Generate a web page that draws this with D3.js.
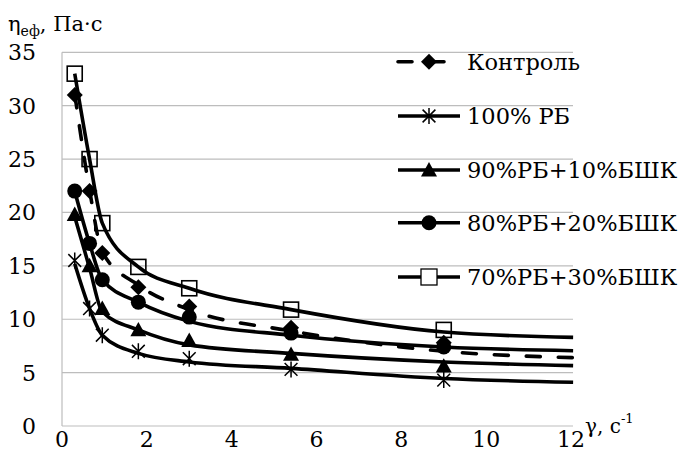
<!DOCTYPE html>
<html><head><meta charset="utf-8">
<script src="https://cdn.jsdelivr.net/npm/d3@7"></script>
<style>
html,body{margin:0;padding:0;background:#fff;}
svg text{font-family:"DejaVu Serif",serif;}
</style></head>
<body>
<svg id="chart" width="686" height="472"></svg>
<script>
// ---- data ----
const xValues = [0.3, 0.65, 0.95, 1.8, 3, 5.4, 9];
const seriesNames = ["Контроль", "100% РБ", "90%РБ+10%БШК", "80%РБ+20%БШК", "70%РБ+30%БШК"];
const control = [31, 22, 16.2, 13, 11.2, 9.2, 7.8];
const rb100 = [15.5, 11, 8.5, 7.0, 6.3, 5.3, 4.3];
const rb90 = [19.8, 15, 11, 9, 8, 6.7, 5.6];
const rb80 = [22, 17.1, 13.7, 11.6, 10.2, 8.7, 7.4];
const rb70 = [33, 25, 19, 14.9, 12.9, 10.9, 9.0];
// trend curves
const trendX = [0.3, 0.65, 0.95, 1.8, 3, 5.4, 9, 12.05];
const controlTrend = [31.1, 22.1, 16.3, 13.2, 10.9, 8.9, 7.0, 6.4];
const rb100Trend = [15.2, 11, 8.5, 6.8, 6.0, 5.4, 4.45, 4.1];
const rb90Trend = [19.6, 14.8, 10.7, 9.0, 7.6, 6.8, 6.0, 5.65];
const rb80Trend = [22, 17.1, 13.7, 11.6, 9.8, 8.5, 7.4, 7.05];
const rb70Trend = [33, 25, 19, 14.9, 12.9, 10.9, 8.8, 8.3];
const xTicks = [0, 2, 4, 6, 8, 10, 12];
const yTicks = [0, 5, 10, 15, 20, 25, 30, 35];

const markerTypes = ["diamond", "star", "triangle", "circle", "square"];
const seriesValues = [control, rb100, rb90, rb80, rb70];
const trendValues = [controlTrend, rb100Trend, rb90Trend, rb80Trend, rb70Trend];
const dashed = [true, false, false, false, false];

// ---- drawing ----
const svg = d3.select("#chart");
const x = d3.scaleLinear().domain([0, 12]).range([62, 571]);
const y = d3.scaleLinear().domain([0, 35]).range([426, 52.3]);

// gridlines
svg.append("g").selectAll("line").data(yTicks).join("line")
  .attr("x1", x(0)).attr("x2", x(12) + 2)
  .attr("y1", d => y(d)).attr("y2", d => y(d))
  .attr("stroke", "#bdbdbd").attr("stroke-width", 1.2);
// y axis line
svg.append("line").attr("x1", x(0)).attr("x2", x(0)).attr("y1", y(0)).attr("y2", y(35))
  .attr("stroke", "#bdbdbd").attr("stroke-width", 1.2);

// y tick labels
svg.append("g").selectAll("text").data(yTicks).join("text")
  .attr("x", 36).attr("y", d => y(d)).attr("dy", "0.36em")
  .attr("text-anchor", "end").attr("font-size", 22).text(d => d);
// x tick labels
svg.append("g").selectAll("text").data(xTicks).join("text")
  .attr("x", d => x(d)).attr("y", 447)
  .attr("text-anchor", "middle").attr("font-size", 22).text(d => d);

// axis titles
const yt = svg.append("text").attr("x", 8).attr("y", 31).attr("font-size", 21);
yt.append("tspan").text("η");
yt.append("tspan").attr("font-size", 14).attr("dy", 5).text("еф");
yt.append("tspan").attr("dy", -5).text(", Па·с");

const xt = svg.append("text").attr("x", 585).attr("y", 433).attr("font-size", 20);
xt.append("tspan").text("γ, с");
xt.append("tspan").attr("font-size", 13).attr("dy", -10).text("-1");

// trend curves
const line = d3.line().x(d => x(d[0])).y(d => y(d[1])).curve(d3.curveMonotoneX);
trendValues.forEach((vals, i) => {
  svg.append("path")
    .attr("d", line(trendX.map((xv, j) => [xv, vals[j]])))
    .attr("fill", "none").attr("stroke", "#000").attr("stroke-width", 3.6)
    .attr("stroke-linecap", dashed[i] ? "round" : "butt")
    .attr("stroke-dasharray", dashed[i] ? "14,18" : null);
});

// markers
function drawMarker(g, type, cx, cy) {
  if (type === "diamond") {
    const s = 8;
    g.append("path").attr("d", `M${cx},${cy - s}L${cx + s},${cy}L${cx},${cy + s}L${cx - s},${cy}Z`).attr("fill", "#000");
  } else if (type === "circle") {
    g.append("circle").attr("cx", cx).attr("cy", cy).attr("r", 7.5).attr("fill", "#000");
  } else if (type === "triangle") {
    const s = 8;
    g.append("path").attr("d", `M${cx},${cy - s}L${cx + s},${cy + s * 0.8}L${cx - s},${cy + s * 0.8}Z`).attr("fill", "#000");
  } else if (type === "square") {
    const s = 7.5;
    g.append("rect").attr("x", cx - s).attr("y", cy - s).attr("width", 2 * s).attr("height", 2 * s)
      .attr("fill", "none").attr("stroke", "#000").attr("stroke-width", 1.6);
  } else if (type === "star") {
    const s = 8;
    g.append("path").attr("d",
      `M${cx},${cy - s}L${cx},${cy + s}M${cx - s * 0.8},${cy - s * 0.8}L${cx + s * 0.8},${cy + s * 0.8}M${cx - s * 0.8},${cy + s * 0.8}L${cx + s * 0.8},${cy - s * 0.8}`)
      .attr("stroke", "#000").attr("stroke-width", 1.5).attr("fill", "none");
  }
}
const mg = svg.append("g");
seriesValues.forEach((vals, i) => {
  vals.forEach((v, j) => drawMarker(mg, markerTypes[i], x(xValues[j]), y(v)));
});

// legend
const legendY = [61.7, 116, 170, 222.7, 277];
const lg = svg.append("g");
seriesNames.forEach((name, i) => {
  const cy = legendY[i];
  lg.append("line").attr("x1", 398).attr("x2", dashed[i] ? 447 : 460).attr("y1", cy).attr("y2", cy)
    .attr("stroke", "#000").attr("stroke-width", 3.6)
    .attr("stroke-linecap", dashed[i] ? "round" : "butt")
    .attr("stroke-dasharray", dashed[i] ? "14,18" : null);
  if (markerTypes[i] === "square") {
    lg.append("rect").attr("x", 421).attr("y", cy - 8).attr("width", 16).attr("height", 16)
      .attr("fill", "#fff").attr("stroke", "#000").attr("stroke-width", 1.3);
  } else {
    drawMarker(lg, markerTypes[i], 429, cy);
  }
  lg.append("text").attr("x", 467).attr("y", cy).attr("dy", "0.36em")
    .attr("font-size", 22.5).text(name);
});
</script>
</body></html>
